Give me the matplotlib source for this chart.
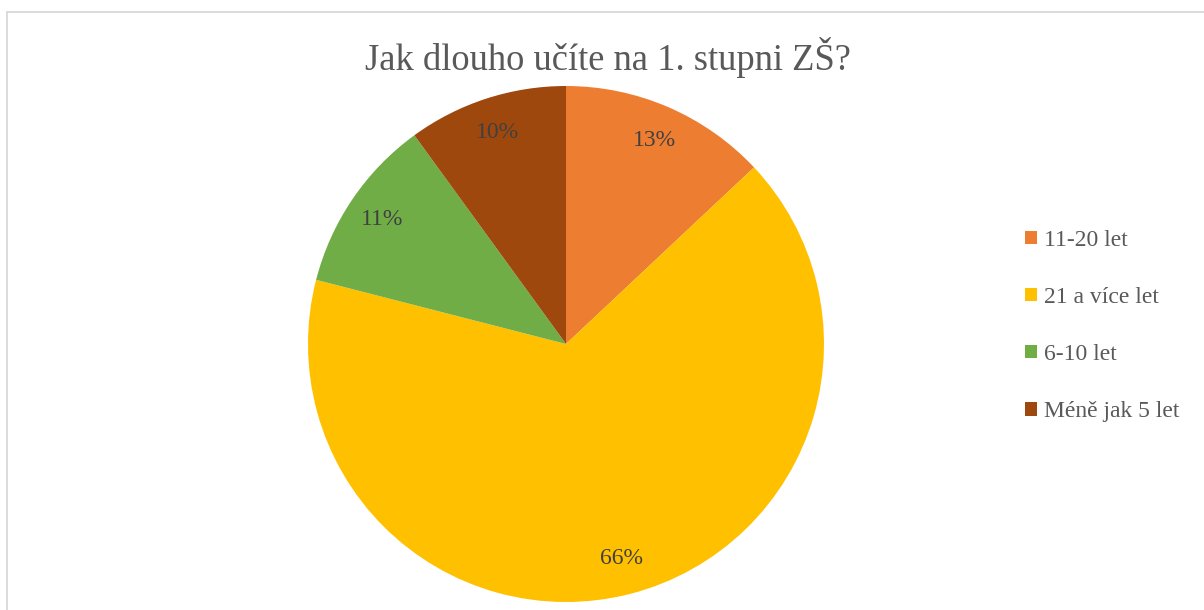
import matplotlib
matplotlib.use("Agg")
import matplotlib.pyplot as plt
from matplotlib.patches import Rectangle

plt.rcParams["font.family"] = ["Liberation Serif", "DejaVu Serif"]

labels = ["11-20 let", "21 a více let", "6-10 let", "Méně jak 5 let"]
shares = [13, 66, 11, 10]
colors = ["#ED7D31", "#FFC000", "#70AD47", "#9E480E"]
title = "Jak dlouho učíte na 1. stupni ZŠ?"

fig = plt.figure(figsize=(12.04, 6.10), dpi=100)
W, H = 1204, 610

# light grey chart frame (left and top edges visible)
fig.patches.append(
    Rectangle((7 / W, -0.1), 1.2, (610 - 12) / H + 0.1, transform=fig.transFigure,
              fill=False, edgecolor="#D9D9D9", linewidth=1.3)
)

cx, cy, r = 566, 610 - 344, 258
ax = fig.add_axes([(cx - r) / W, (cy - r) / H, 2 * r / W, 2 * r / H])
wedges, texts, autotexts = ax.pie(
    shares,
    colors=colors,
    startangle=90,
    counterclock=False,
    autopct="%1.0f%%",
    pctdistance=0.86,
    wedgeprops=dict(linewidth=0),
    textprops=dict(color="#404040", fontsize=17),
)
ax.set_xlim(-1, 1)
ax.set_ylim(-1, 1)
ax.set_aspect("equal")
ax.axis("off")

fig.text(608 / W, 1 - 57 / H, title, ha="center", va="center",
         fontsize=26.3, color="#595959")

fig.legend(
    wedges, labels,
    loc="center left",
    bbox_to_anchor=(1004 / W, 1 - 326 / H),
    frameon=False,
    fontsize=17,
    labelcolor="#595959",
    handlelength=0.5,
    handleheight=0.5,
    handletextpad=0.3,
    labelspacing=1.53,
)

fig.savefig("out.png", dpi=100)
